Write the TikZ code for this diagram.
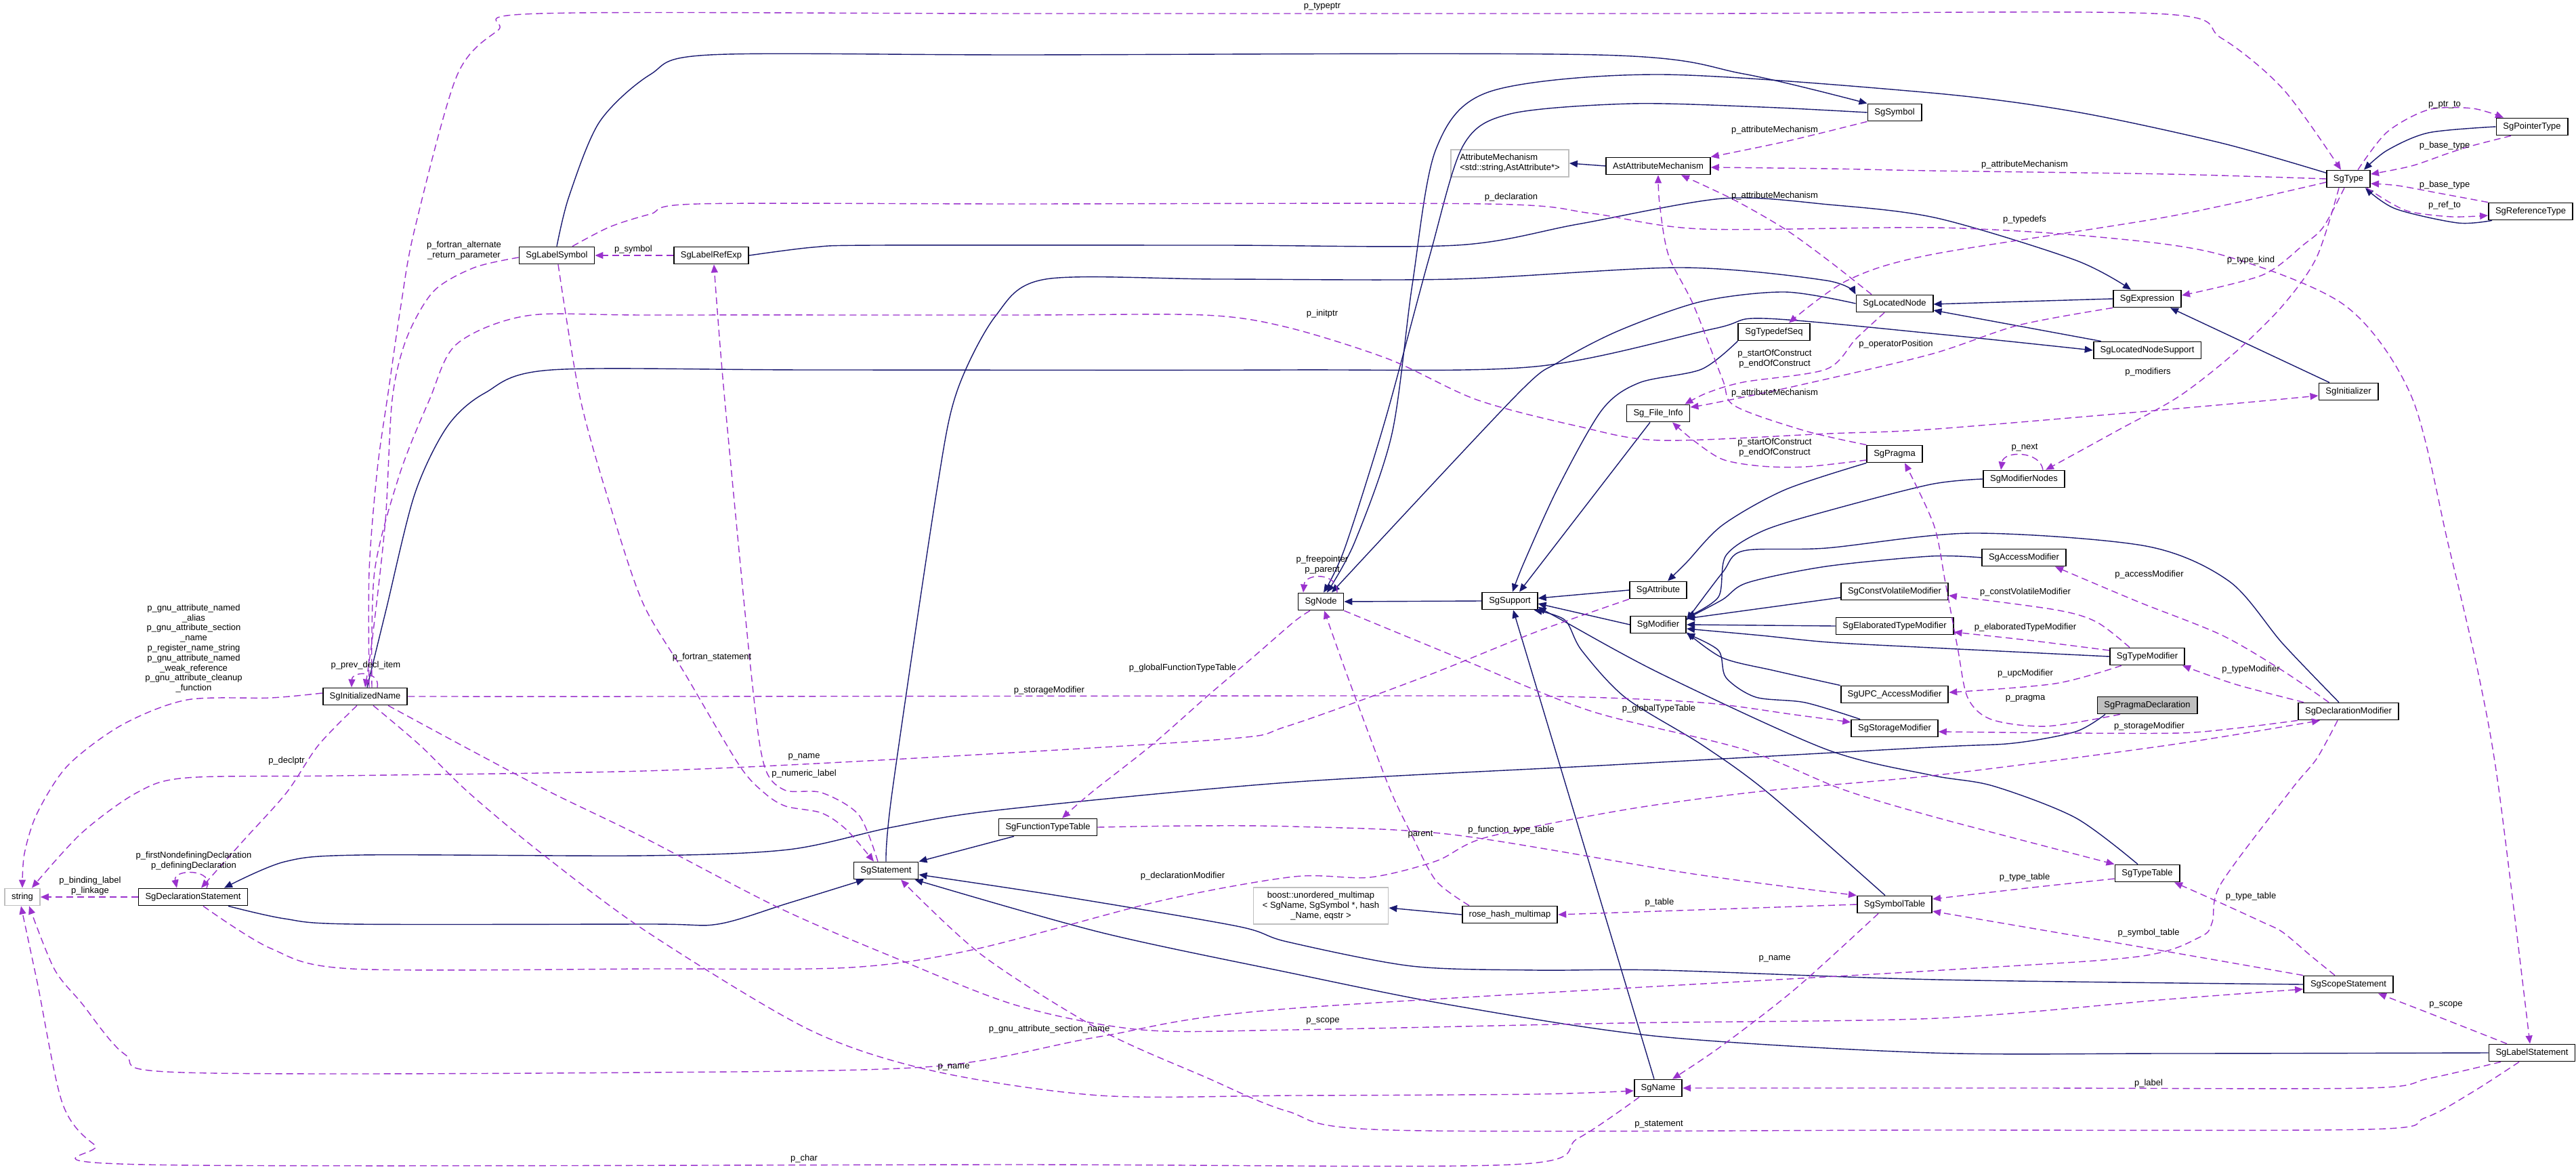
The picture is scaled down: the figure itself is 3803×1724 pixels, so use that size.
\documentclass[tikz,border=0pt]{standalone}
\usepackage{fontspec}
\setmainfont{Liberation Sans}
\usetikzlibrary{arrows.meta}

\definecolor{inhblue}{HTML}{191970}
\definecolor{usepurple}{HTML}{9A32CD}
\definecolor{extgray}{HTML}{BFBFBF}
\newcommand{\dgfont}{\fontsize{6.5pt}{7.4pt}\selectfont}

\tikzset{
  cls/.style={draw=black,line width=0.9pt,fill=white,minimum height=12.5pt,inner xsep=5pt,inner ysep=0pt,font=\dgfont},
  extcls/.style={cls,draw=extgray,align=center},
  curcls/.style={cls,fill=extgray},
  inh/.style={draw=inhblue,line width=0.7pt,-{Triangle[length=6pt,width=5pt]}},
  dep/.style={draw=usepurple,line width=0.7pt,dash pattern=on 5pt off 3pt,-{Triangle[length=6pt,width=5pt]}},
  lbl/.style={font=\dgfont,align=center,inner sep=0pt},
}

\begin{document}
\begin{tikzpicture}[x=0.5pt,y=-0.5pt]
\useasboundingbox (0,0) rectangle (3803,1724);

% classes
\node[extcls] (str) at (33,1324) {string};
\node[cls] (declstmt) at (285,1324) {SgDeclarationStatement};
\node[cls] (iname) at (539,1028) {SgInitializedName};
\node[cls] (lsym) at (822,377) {SgLabelSymbol};
\node[cls] (lref) at (1050,377) {SgLabelRefExp};
\node[cls] (stmt) at (1308,1285) {SgStatement};
\node[cls] (ftt) at (1547,1221) {SgFunctionTypeTable};
\node[cls] (sgnode) at (1950,888) {SgNode};
\node[extcls,minimum width=99.5pt,minimum height=27pt] (boost) at (1950,1337) {boost::unordered\_multimap\\< SgName, SgSymbol *, hash\\\_Name, eqstr >};
\node[extcls,align=left,minimum width=87pt,minimum height=20pt] (attmech) at (2229,241) {AttributeMechanism\\<std::string,AstAttribute*>};
\node[cls] (support) at (2229,887) {SgSupport};
\node[cls] (rosemap) at (2229,1350) {rose\_hash\_multimap};
\node[cls] (astmech) at (2448,245) {AstAttributeMechanism};
\node[cls] (fileinfo) at (2448,610) {Sg\_File\_Info};
\node[cls] (attrib) at (2448,871) {SgAttribute};
\node[cls] (modif) at (2448,922) {SgModifier};
\node[cls] (sgname) at (2448,1606) {SgName};
\node[cls] (tdseq) at (2619,490) {SgTypedefSeq};
\node[cls] (symbol) at (2797,166) {SgSymbol};
\node[cls] (locnode) at (2797,448) {SgLocatedNode};
\node[cls] (pragma) at (2797,670) {SgPragma};
\node[cls] (cvmod) at (2797,873) {SgConstVolatileModifier};
\node[cls] (etmod) at (2797,924) {SgElaboratedTypeModifier};
\node[cls] (upcmod) at (2797,1025) {SgUPC\_AccessModifier};
\node[cls] (stmod) at (2797,1075) {SgStorageModifier};
\node[cls] (symtab) at (2797,1335) {SgSymbolTable};
\node[cls] (modnodes) at (2988,707) {SgModifierNodes};
\node[cls] (accmod) at (2988,823) {SgAccessModifier};
\node[cls] (expr) at (3170,441) {SgExpression};
\node[cls] (lnsupp) at (3170,517) {SgLocatedNodeSupport};
\node[cls] (tymod) at (3170,969) {SgTypeModifier};
\node[curcls] (pragdecl) at (3170,1041) {SgPragmaDeclaration};
\node[cls] (typetab) at (3170,1289) {SgTypeTable};
\node[cls] (sgtype) at (3467,264) {SgType};
\node[cls] (init) at (3467,578) {SgInitializer};
\node[cls] (declmod) at (3467,1050) {SgDeclarationModifier};
\node[cls] (scope) at (3467,1453) {SgScopeStatement};
\node[cls] (ptrtype) at (3738,187) {SgPointerType};
\node[cls] (reftype) at (3736,312) {SgReferenceType};
\node[cls] (labstmt) at (3738,1554) {SgLabelStatement};

% inheritance
\draw[inh] (support.west) -- (sgnode.east);
\draw[inh] plot[smooth] coordinates {(sgtype.165) (3279,211) (3064,165) (2850,137) (2451,110) (2200,135) (2120,220) (2085,420) (2055,640) (2000,800) ([xshift=4.5pt]sgnode.north)};
\draw[inh] plot[smooth] coordinates {(symbol.west) (2600,158) (2408,153) (2230,168) (2160,215) (2110,380) (2045,620) (1985,810) ([xshift=2pt]sgnode.north)};
\draw[inh] plot[smooth] coordinates {(locnode.west) (2635,431) (2512,445) (2390,488) (2300,535) (2237,585) ([xshift=8pt]sgnode.north)};
\draw[inh] plot[smooth] coordinates {(lsym.north) (840,290) (885,180) (960,110) (1048,81) (1500,81) (2359,81) (2574,109) (symbol.north west)};
\draw[inh] plot[smooth] coordinates {(lref.east) (1200,365) (1293,362) (1800,362) (2150,362) (2329,331) (2543,293) (2700,302) (2860,322) (3064,384) ([xshift=-12pt]expr.north)};
\draw[inh] plot[smooth] coordinates {(stmt.north) (1317,1170) (1382,730) (1412,580) (1470,466) (1544,412) (1800,412) (2145,412) (2482,395) (2696,414) (locnode.north west)};
\draw[inh] plot[smooth] coordinates {([xshift=1.5pt]iname.north) (570,900) (612,730) (660,630) (716,580) (814,546) (1200,546) (1900,546) (2267,541) (2531,485) (2604,470) (2860,493) (lnsupp.west)};
\draw[inh] plot[smooth] coordinates {(tdseq.south west) (2512,545) (2420,565) (2365,605) (2300,720) (2250,830) ([xshift=2pt]support.north)};
\draw[inh] ([xshift=-6pt]fileinfo.south) -- ([xshift=7pt]support.north);
\draw[inh] (attrib.west) -- ([yshift=2pt]support.east);
\draw[inh] (modif.west) -- ([yshift=-2pt]support.east);
\draw[inh] ([xshift=-3pt]sgname.north) -- ([xshift=2.5pt]support.south);
\draw[inh] plot[smooth] coordinates {([xshift=-7pt]symtab.north) (2610,1170) (2512,1099) (2400,1030) (2335,960) (2310,915) ([xshift=-3pt]support.south east)};
\draw[inh] plot[smooth] coordinates {([xshift=-7pt]typetab.north) (3064,1207) (2942,1160) (2850,1144) (2696,1106) (2451,994) (2300,912) (support.-12)};
\draw[inh] plot[smooth] coordinates {(pragma.south west) (2635,723) (2543,775) (2490,830) ([xshift=7pt]attrib.north)};
\draw[inh] plot[smooth] coordinates {(modnodes.west) (2850,715) (2702,753) (2604,783) (2548,820) (2537,881) (modif.15)};
\draw[inh] plot[smooth] coordinates {(accmod.west) (2850,821) (2696,836) (2580,860) (2543,885) (modif.12)};
\draw[inh] plot[smooth] coordinates {([xshift=-7pt]declmod.north) (3370,950) (3291,858) (3168,806) (2911,787) (2696,809) (2574,813) (2543,845) (modif.9)};
\draw[inh] ([yshift=-4.5pt]cvmod.west) -- ([yshift=4.5pt]modif.east);
\draw[inh] (etmod.west) -- (modif.east);
\draw[inh] plot[smooth] coordinates {(tymod.west) (2850,956) (2700,948) (2600,938) ([yshift=-3pt]modif.east)};
\draw[inh] plot[smooth] coordinates {(upcmod.north west) (2620,990) (2543,971) (modif.-15)};
\draw[inh] plot[smooth] coordinates {([xshift=7pt]stmod.north west) (2665,1037) (2592,1029) (2548,1000) (2537,960) (modif.south east)};
\draw[inh] plot[smooth] coordinates {(ptrtype.west) (3585,196) (3524,222) ([xshift=-5pt]sgtype.north east)};
\draw[inh] plot[smooth] coordinates {([xshift=3pt]reftype.south west) (3628,329) (3536,308) ([xshift=-4pt]sgtype.south east)};
\draw[inh] (expr.west) -- ([yshift=-0.5pt]locnode.east);
\draw[inh] ([xshift=6pt]lnsupp.north west) -- ([yshift=-5pt]locnode.east);
\draw[inh] ([xshift=-14pt]init.north) -- ([xshift=17pt]expr.south);
\draw[inh] (astmech.west) -- (attmech.east);
\draw[inh] (rosemap.west) -- ([yshift=-1.5pt]boost.east);
\draw[inh] ([xshift=-25pt]ftt.south) -- (stmt.north east);
\draw[inh] plot[smooth] coordinates {([xshift=26pt]declstmt.south) (420,1356) (520,1364) (960,1364) (1060,1364) (1164,1333) ([xshift=-16pt]stmt.south)};
\draw[inh] plot[smooth] coordinates {(scope.west) (2860,1446) (2451,1432) (2267,1432) (2084,1426) (1900,1390) (1826,1367) (1562,1322) ([yshift=-3pt]stmt.east)};
\draw[inh] plot[smooth] coordinates {(labstmt.west) (3200,1555) (2850,1554) (2451,1530) (2145,1484) (1900,1435) (1624,1376) ([xshift=-3pt]stmt.south east)};
\draw[inh] plot[smooth] coordinates {([xshift=-31pt]pragdecl.south) (3064,1080) (2972,1097) (2850,1103) (2380,1129) (1900,1155) (1471,1196) (1317,1221) (1164,1254) (950,1263) (533,1262) (420,1272) ([xshift=23pt]declstmt.north)};

% usage
\draw[dep] plot[smooth] coordinates {([xshift=3pt]iname.north) (545,843) (557,693) (573,580) (592,450) (612,339) (674,113) (735,45) (796,20) (1500,20) (2500,20) (3181,20) (3279,56) (3371,132) ([xshift=-5.5pt]sgtype.north)};
\draw[dep] plot[smooth] coordinates {([yshift=-1.5pt]lsym.west) (700,395) (640,430) (600,500) (579,590) (569,768) (550,940) (iname.north)};
\draw[dep] ([xshift=9pt]iname.north) .. controls (562,990) and (520,990) .. ([xshift=-10pt]iname.north);
\draw[dep] plot[smooth] coordinates {([xshift=5pt]iname.north) (553,843) (590,700) (634,590) (674,508) (778,466) (960,465) (1500,465) (1777,465) (1900,483) (2050,530) (2180,590) (2329,629) (2451,650) (2700,640) (2860,633) (3250,600) ([yshift=-3pt]init.west)};
\draw[dep] plot[smooth] coordinates {([xshift=11.5pt]lsym.north) (900,335) (960,316) (1030,301) (1500,301) (2194,301) (2350,315) (2512,338) (2860,336) (3100,350) (3279,376) (3462,451) (3560,585) (3615,806) (3660,1000) (3689,1165) ([xshift=-1.5pt]labstmt.north)};
\draw[dep] (lref.west) -- (lsym.east);
\draw[dep] plot[smooth] coordinates {([xshift=1pt]lsym.south) (857,590) (905,760) (950,892) (1011,994) (1091,1129) (1128,1170) (1160,1190) (1213,1200) (1250,1225) ([xshift=-9pt]stmt.north)};
\draw[dep] plot[smooth] coordinates {([xshift=-6pt]stmt.north) (1268,1203) (1213,1170) (1158,1166) (1128,1129) (1109,994) (1069,580) ([xshift=2pt]lref.south)};
\draw[dep] plot[smooth] coordinates {(symbol.south west) (2640,208) (astmech.north east)};
\draw[dep] plot[smooth] coordinates {(sgtype.west) (3200,257) (2850,252) (2700,249) ([yshift=-1pt]astmech.east)};
\draw[dep] plot[smooth] coordinates {([xshift=-17pt]locnode.north) (2700,385) (2635,338) (2560,295) ([xshift=17pt]astmech.south)};
\draw[dep] plot[smooth] coordinates {(pragma.north west) (2665,636) (2561,599) (2543,560) (2500,450) (2463,376) (2450,300) (astmech.south)};
\draw[dep] plot[smooth] coordinates {([yshift=-4.5pt]pragma.west) (2665,689) (2600,688) (2543,678) (2500,650) ([xshift=10.5pt]fileinfo.south)};
\draw[dep] plot[smooth] coordinates {([xshift=-7.5pt]locnode.south) (2740,500) (2696,545) (2574,564) (2520,580) ([xshift=-4pt]fileinfo.north east)};
\draw[dep] plot[smooth] coordinates {(expr.south west) (2980,480) (2850,523) (2650,570) (2530,595) ([yshift=4.5pt]fileinfo.east)};
\draw[dep] plot[smooth] coordinates {([yshift=-2.5pt]sgtype.west) (3200,320) (2850,376) (2727,414) ([xshift=11pt]tdseq.north)};
\draw[dep] plot[smooth] coordinates {([xshift=-3pt]sgtype.south) (3430,335) (3401,361) (3340,406) ([yshift=2.5pt]expr.east)};
\draw[dep] plot[smooth] coordinates {([xshift=-7pt]sgtype.south) (3420,380) (3370,451) (3300,520) (3217,585) (3125,636) ([xshift=16pt]modnodes.north)};
\draw[dep] plot[smooth] coordinates {([xshift=7pt]sgtype.north) (3524,195) (3585,162) (3650,160) ([xshift=-21pt]ptrtype.north)};
\draw[dep] plot[smooth] coordinates {([xshift=-15.5pt]ptrtype.south) (3650,215) (3615,226) (3560,245) ([yshift=3.5pt]sgtype.east)};
\draw[dep] plot[smooth] coordinates {(reftype.north west) (3600,285) (3540,274) ([yshift=-3.5pt]sgtype.east)};
\draw[dep] plot[smooth] coordinates {([xshift=-3pt]sgtype.south east) (3530,300) (3560,313) (3620,320) ([yshift=-3pt]reftype.west)};
\draw[dep] ([xshift=14pt]modnodes.north) .. controls (3012,665) and (2958,665) .. ([xshift=-17pt]modnodes.north);
\draw[dep] plot[smooth] coordinates {([xshift=-14.5pt]declmod.north) (3370,990) (3279,937) (3156,888) ([xshift=23pt]accmod.south)};
\draw[dep] plot[smooth] coordinates {([xshift=-13pt]tymod.north) (3095,918) (3034,900) ([yshift=-3pt]cvmod.east)};
\draw[dep] plot[smooth] coordinates {([yshift=4.5pt]tymod.west) (3003,946) ([yshift=-4.5pt]etmod.east)};
\draw[dep] plot[smooth] coordinates {([xshift=-19pt]tymod.south) (3034,1009) ([yshift=1.5pt]upcmod.east)};
\draw[dep] plot[smooth] coordinates {([xshift=-33pt]declmod.north) (3300,1010) ([xshift=26pt]tymod.south)};
\draw[dep] plot[smooth] coordinates {(declmod.south west) (3300,1075) (3217,1082) (3050,1082) (2950,1081) ([yshift=-2.5pt]stmod.east)};
\draw[dep] plot[smooth] coordinates {([xshift=-20pt]pragdecl.south) (3021,1072) (2940,1062) (2905,1030) (2890,956) (2872,860) (2855,775) ([xshift=7.5pt]pragma.south)};
\draw[dep] plot[smooth] coordinates {([xshift=7.5pt]declstmt.south) (400,1400) (520,1430) (960,1430) (1256,1428) (1440,1401) (1716,1329) (1910,1294) (2022,1295) (2120,1271) (2194,1236) (2400,1195) (2600,1168) (2860,1144) (3200,1100) ([xshift=-21pt]declmod.south)};
\draw[dep] plot[smooth] coordinates {([xshift=-8pt]sgnode.south) (1910,918) (1850,970) (1783,1027) (1700,1100) (1611,1170) ([xshift=10.5pt]ftt.north)};
\draw[dep] plot[smooth] coordinates {(sgnode.south east) (2163,975) (2350,1050) (2574,1106) (2720,1165) (2860,1207) (typetab.north west)};
\draw[dep] plot[smooth] coordinates {([xshift=-30pt]rosemap.north) (2120,1300) (2084,1232) (2050,1160) (1990,1000) ([xshift=2.5pt]sgnode.south)};
\draw[dep] ([xshift=12pt]sgnode.north) .. controls (1976,845) and (1927,845) .. ([xshift=-13pt]sgnode.north);
\draw[dep] plot[smooth] coordinates {(iname.east) (1000,1028) (2000,1027) (2300,1028) (2512,1037) (2650,1055) ([yshift=4.5pt]stmod.west)};
\draw[dep] plot[smooth] coordinates {(attrib.south west) (2267,933) (2100,1000) (1900,1072) (1807,1091) (1317,1121) (950,1138) (500,1145) (276,1148) (202,1170) (120,1230) ([xshift=7pt]str.north)};
\draw[dep] plot[smooth] coordinates {(ftt.east) (1750,1219) (1910,1220) (2145,1232) (2500,1290) (symtab.north west)};
\draw[dep] (symtab.west) -- (rosemap.east);
\draw[dep] plot[smooth] coordinates {([xshift=-12pt]symtab.south) (2650,1460) (2540,1545) ([xshift=10.5pt]sgname.north)};
\draw[dep] plot[smooth] coordinates {([yshift=-4pt]typetab.west) (3000,1310) ([yshift=4pt]symtab.east)};
\draw[dep] plot[smooth] coordinates {([xshift=-10pt]scope.north) (3413,1412) (3370,1376) (3340,1361) (3279,1333) ([xshift=20pt]typetab.south)};
\draw[dep] plot[smooth] coordinates {(scope.north west) (3156,1397) ([yshift=-5pt]symtab.east)};
\draw[dep] plot[smooth] coordinates {([xshift=-18.5pt]labstmt.north) (3585,1495) ([xshift=22pt]scope.south)};
\draw[dep] plot[smooth] coordinates {([xshift=17pt]iname.south) (700,1110) (814,1170) (950,1236) (1150,1340) (1317,1412) (1501,1484) (1685,1520) (1910,1520) (2400,1510) (2860,1503) (3200,1475) ([yshift=-3.5pt]scope.west)};
\draw[dep] plot[smooth] coordinates {([xshift=6pt]iname.south) (620,1100) (692,1170) (800,1260) (956,1376) (1195,1520) (1379,1581) (1624,1617) (1910,1617) (2267,1615) ([yshift=-2pt]sgname.west)};
\draw[dep] plot[smooth] coordinates {([xshift=-23pt]labstmt.south) (3585,1592) (3493,1606) (3000,1606) (sgname.east)};
\draw[dep] plot[smooth] coordinates {([xshift=-9.5pt]labstmt.south) (3650,1612) (3580,1650) (3493,1667) (2850,1668) (2053,1668) (1900,1640) (1780,1590) (1624,1520) (1450,1410) ([xshift=11pt]stmt.south)};
\draw[dep] plot[smooth] coordinates {([xshift=-14pt]sgname.south) (2330,1680) (2231,1719) (1500,1719) (214,1719) (140,1690) (92,1628) (55,1450) ([xshift=-1pt]str.south)};
\draw[dep] plot[smooth] coordinates {([xshift=-8pt]declmod.south) (3420,1120) (3383,1165) (3279,1304) (3266,1361) (3248,1383) (3156,1412) (2850,1433) (1900,1489) (1624,1530) (1379,1574) (950,1583) (269,1583) (184,1556) (120,1480) (80,1430) ([xshift=5pt]str.south)};
\draw[dep] plot[smooth] coordinates {([yshift=2.5pt]iname.west) (400,1030) (276,1033) (180,1070) (100,1130) (55,1200) (36,1260) (str.north)};
\draw[dep] plot[smooth] coordinates {([xshift=-6pt]iname.south) (470,1100) (423,1170) (360,1240) ([xshift=6pt]declstmt.north)};
\draw[dep] ([xshift=10pt]declstmt.north) .. controls (318,1282) and (255,1282) .. ([xshift=-12pt]declstmt.north);
\draw[dep] (declstmt.west) -- (str.east);

% labels
\node[lbl] (l_typeptr) at (1952,10) {p\_typeptr};
\node[lbl] (l_fortalt) at (685,370) {p\_fortran\_alternate\\\_return\_parameter};
\node[lbl] (l_prevdecl) at (540,982) {p\_prev\_decl\_item};
\node[lbl] (l_initptr) at (1952,463) {p\_initptr};
\node[lbl] (l_declaration) at (2231,291) {p\_declaration};
\node[lbl] (l_symbol) at (935,368) {p\_symbol};
\node[lbl] (l_fortstmt) at (1051,970) {p\_fortran\_statement};
\node[lbl] (l_numlabel) at (1187,1142) {p\_numeric\_label};
\node[lbl] (l_am1) at (2620,192) {p\_attributeMechanism};
\node[lbl] (l_am2) at (2989,243) {p\_attributeMechanism};
\node[lbl] (l_am3) at (2620,289) {p\_attributeMechanism};
\node[lbl] (l_am4) at (2620,580) {p\_attributeMechanism};
\node[lbl] (l_soc1) at (2620,661) {p\_startOfConstruct\\p\_endOfConstruct};
\node[lbl] (l_soc2) at (2620,530) {p\_startOfConstruct\\p\_endOfConstruct};
\node[lbl] (l_oppos) at (2799,508) {p\_operatorPosition};
\node[lbl] (l_typedefs) at (2989,324) {p\_typedefs};
\node[lbl] (l_typekind) at (3323,384) {p\_type\_kind};
\node[lbl] (l_modifiers) at (3171,549) {p\_modifiers};
\node[lbl] (l_ptrto) at (3609,155) {p\_ptr\_to};
\node[lbl] (l_base1) at (3609,215) {p\_base\_type};
\node[lbl] (l_base2) at (3609,273) {p\_base\_type};
\node[lbl] (l_refto) at (3609,303) {p\_ref\_to};
\node[lbl] (l_next) at (2989,661) {p\_next};
\node[lbl] (l_accmod) at (3173,848) {p\_accessModifier};
\node[lbl] (l_cvmod) at (2990,874) {p\_constVolatileModifier};
\node[lbl] (l_etmod) at (2990,926) {p\_elaboratedTypeModifier};
\node[lbl] (l_upcmod) at (2990,994) {p\_upcModifier};
\node[lbl] (l_tymod) at (3323,988) {p\_typeModifier};
\node[lbl] (l_stmod2) at (3173,1072) {p\_storageModifier};
\node[lbl] (l_pragma) at (2990,1031) {p\_pragma};
\node[lbl] (l_declmod) at (1746,1293) {p\_declarationModifier};
\node[lbl] (l_gftt) at (1746,986) {p\_globalFunctionTypeTable};
\node[lbl] (l_gtt) at (2449,1046) {p\_globalTypeTable};
\node[lbl] (l_parent) at (2097,1232) {parent};
\node[lbl] (l_freep) at (1952,834) {p\_freepointer\\p\_parent};
\node[lbl] (l_stmod1) at (1549,1019) {p\_storageModifier};
\node[lbl] (l_name1) at (1187,1117) {p\_name};
\node[lbl] (l_ftt) at (2231,1225) {p\_function\_type\_table};
\node[lbl] (l_table) at (2450,1332) {p\_table};
\node[lbl] (l_name2) at (2620,1415) {p\_name};
\node[lbl] (l_tt1) at (2989,1295) {p\_type\_table};
\node[lbl] (l_tt2) at (3323,1323) {p\_type\_table};
\node[lbl] (l_symtab) at (3172,1377) {p\_symbol\_table};
\node[lbl] (l_scope1) at (3611,1483) {p\_scope};
\node[lbl] (l_scope2) at (1953,1507) {p\_scope};
\node[lbl] (l_name3) at (1408,1575) {p\_name};
\node[lbl] (l_label) at (3172,1599) {p\_label};
\node[lbl] (l_stmt) at (2449,1660) {p\_statement};
\node[lbl] (l_char) at (1187,1710) {p\_char};
\node[lbl] (l_gnusect) at (1549,1519) {p\_gnu\_attribute\_section\_name};
\node[lbl] (l_gnu) at (286,957) {p\_gnu\_attribute\_named\\\_alias\\p\_gnu\_attribute\_section\\\_name\\p\_register\_name\_string\\p\_gnu\_attribute\_named\\\_weak\_reference\\p\_gnu\_attribute\_cleanup\\\_function};
\node[lbl] (l_declptr) at (423,1123) {p\_declptr};
\node[lbl] (l_defdecl) at (286,1271) {p\_firstNondefiningDeclaration\\p\_definingDeclaration};
\node[lbl] (l_binding) at (133,1308) {p\_binding\_label\\p\_linkage};
\end{tikzpicture}
\end{document}
